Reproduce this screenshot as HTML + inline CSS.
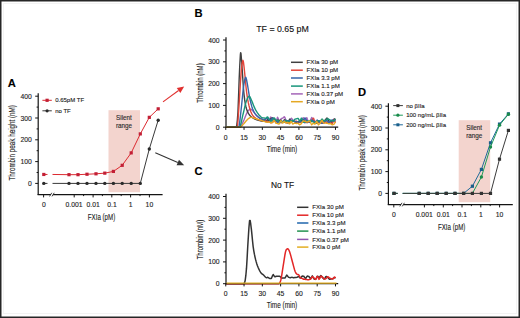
<!DOCTYPE html>
<html><head><meta charset="utf-8"><style>
html,body{margin:0;padding:0;background:#fff;width:520px;height:318px;overflow:hidden}
svg{display:block}
text{font-family:"Liberation Sans", sans-serif;stroke-width:0.12px}
</style></head><body>
<svg width="520" height="318" viewBox="0 0 520 318">
<rect width="520" height="318" fill="#fff"/>
<rect x="108.5" y="110.2" width="31.5" height="82" fill="#f3d4ce"/>
<line x1="38.2" y1="93.3" x2="38.2" y2="195.1" stroke="#141414" stroke-width="1.2"/>
<line x1="35.2" y1="183.4" x2="38.2" y2="183.4" stroke="#141414" stroke-width="1"/>
<text x="31.8" y="185.9" font-size="6.8" text-anchor="end" fill="#222" stroke="#222" stroke-width="0.05" font-weight="normal" >0</text>
<line x1="36.6" y1="172.5" x2="38.2" y2="172.5" stroke="#141414" stroke-width="1"/>
<line x1="35.2" y1="161.6" x2="38.2" y2="161.6" stroke="#141414" stroke-width="1"/>
<text x="31.8" y="164.1" font-size="6.8" text-anchor="end" fill="#222" stroke="#222" stroke-width="0.05" font-weight="normal" >100</text>
<line x1="36.6" y1="150.7" x2="38.2" y2="150.7" stroke="#141414" stroke-width="1"/>
<line x1="35.2" y1="139.8" x2="38.2" y2="139.8" stroke="#141414" stroke-width="1"/>
<text x="31.8" y="142.3" font-size="6.8" text-anchor="end" fill="#222" stroke="#222" stroke-width="0.05" font-weight="normal" >200</text>
<line x1="36.6" y1="128.9" x2="38.2" y2="128.9" stroke="#141414" stroke-width="1"/>
<line x1="35.2" y1="118" x2="38.2" y2="118" stroke="#141414" stroke-width="1"/>
<text x="31.8" y="120.5" font-size="6.8" text-anchor="end" fill="#222" stroke="#222" stroke-width="0.05" font-weight="normal" >300</text>
<line x1="36.6" y1="107.1" x2="38.2" y2="107.1" stroke="#141414" stroke-width="1"/>
<line x1="35.2" y1="96.2" x2="38.2" y2="96.2" stroke="#141414" stroke-width="1"/>
<text x="31.8" y="98.7" font-size="6.8" text-anchor="end" fill="#222" stroke="#222" stroke-width="0.05" font-weight="normal" >400</text>
<line x1="37.6" y1="194.6" x2="162.6" y2="194.6" stroke="#141414" stroke-width="1.2"/>
<polygon points="49.6,196.4 51.8,192.8 54.2,192.8 52,196.4" fill="#fff"/>
<line x1="49.6" y1="196.4" x2="51.8" y2="192.8" stroke="#141414" stroke-width="0.8"/>
<line x1="52" y1="196.4" x2="54.2" y2="192.8" stroke="#141414" stroke-width="0.8"/>
<line x1="43.6" y1="194.6" x2="43.6" y2="197.4" stroke="#141414" stroke-width="1"/>
<line x1="74.2" y1="194.6" x2="74.2" y2="197.4" stroke="#141414" stroke-width="1"/>
<line x1="83.6" y1="194.6" x2="83.6" y2="196.1" stroke="#141414" stroke-width="1"/>
<line x1="93.1" y1="194.6" x2="93.1" y2="197.4" stroke="#141414" stroke-width="1"/>
<line x1="102.4" y1="194.6" x2="102.4" y2="196.1" stroke="#141414" stroke-width="1"/>
<line x1="111.8" y1="194.6" x2="111.8" y2="197.4" stroke="#141414" stroke-width="1"/>
<line x1="121.2" y1="194.6" x2="121.2" y2="196.1" stroke="#141414" stroke-width="1"/>
<line x1="130.6" y1="194.6" x2="130.6" y2="197.4" stroke="#141414" stroke-width="1"/>
<line x1="140" y1="194.6" x2="140" y2="196.1" stroke="#141414" stroke-width="1"/>
<line x1="149.4" y1="194.6" x2="149.4" y2="197.4" stroke="#141414" stroke-width="1"/>
<text x="43.8" y="207.2" font-size="6.8" text-anchor="middle" fill="#222" stroke="#222" stroke-width="0.05" font-weight="normal" >0</text>
<text x="74" y="207.2" font-size="6.8" text-anchor="middle" fill="#222" stroke="#222" stroke-width="0.05" font-weight="normal" >0.001</text>
<text x="93.1" y="207.2" font-size="6.8" text-anchor="middle" fill="#222" stroke="#222" stroke-width="0.05" font-weight="normal" >0.01</text>
<text x="112" y="207.2" font-size="6.8" text-anchor="middle" fill="#222" stroke="#222" stroke-width="0.05" font-weight="normal" >0.1</text>
<text x="130.6" y="207.2" font-size="6.8" text-anchor="middle" fill="#222" stroke="#222" stroke-width="0.05" font-weight="normal" >1</text>
<text x="149.4" y="207.2" font-size="6.8" text-anchor="middle" fill="#222" stroke="#222" stroke-width="0.05" font-weight="normal" >10</text>
<text x="101.5" y="219.8" font-size="9" text-anchor="middle" fill="#222" stroke="#222" stroke-width="0.3" textLength="27.4" lengthAdjust="spacingAndGlyphs">FXIa (pM)</text>
<text transform="translate(14.8,142.8) rotate(-90)" font-size="8.8" text-anchor="middle" fill="#222" stroke="#222" stroke-width="0.3" textLength="75.5" lengthAdjust="spacingAndGlyphs">Thrombin peak height (nM)</text>
<text x="124" y="119.9" font-size="6.3" text-anchor="middle" fill="#2a2a2a" stroke="#2a2a2a" stroke-width="0.05" font-weight="normal" >Silent</text>
<text x="124" y="127.6" font-size="6.3" text-anchor="middle" fill="#2a2a2a" stroke="#2a2a2a" stroke-width="0.05" font-weight="normal" >range</text>
<line x1="43.8" y1="183.4" x2="47.5" y2="183.4" stroke="#3a3a3a" stroke-width="1"/>
<polyline points="52.5,183.4 69,183.4 78,183.4 87,183.4 96,183.4 104.8,183.4 113.4,183.4 122.2,183.4 131.2,183.4 140.3,183.4 149.3,148.96 158.2,120.18" fill="none" stroke="#3a3a3a" stroke-width="1" stroke-linejoin="round" />
<circle cx="43.8" cy="183.4" r="1.7" fill="#2a2a2a"/>
<circle cx="69" cy="183.4" r="1.7" fill="#2a2a2a"/>
<circle cx="78" cy="183.4" r="1.7" fill="#2a2a2a"/>
<circle cx="87" cy="183.4" r="1.7" fill="#2a2a2a"/>
<circle cx="96" cy="183.4" r="1.7" fill="#2a2a2a"/>
<circle cx="104.8" cy="183.4" r="1.7" fill="#2a2a2a"/>
<circle cx="113.4" cy="183.4" r="1.7" fill="#2a2a2a"/>
<circle cx="122.2" cy="183.4" r="1.7" fill="#2a2a2a"/>
<circle cx="131.2" cy="183.4" r="1.7" fill="#2a2a2a"/>
<circle cx="140.3" cy="183.4" r="1.7" fill="#2a2a2a"/>
<circle cx="149.3" cy="148.96" r="1.7" fill="#2a2a2a"/>
<circle cx="158.2" cy="120.18" r="1.7" fill="#2a2a2a"/>
<line x1="43.8" y1="174.46" x2="47.5" y2="174.46" stroke="#dc2a30" stroke-width="1"/>
<polyline points="52.5,174.46 69,174.68 78,174.68 87,174.24 96,173.81 104.8,173.15 113.4,171.41 122.2,165.31 131.2,152.88 140.3,133.91 149.3,117.35 158.2,108.84" fill="none" stroke="#dc2a30" stroke-width="1" stroke-linejoin="round" />
<rect x="42.2" y="172.86" width="3.2" height="3.2" fill="#c21f35"/>
<rect x="67.4" y="173.08" width="3.2" height="3.2" fill="#c21f35"/>
<rect x="76.4" y="173.08" width="3.2" height="3.2" fill="#c21f35"/>
<rect x="85.4" y="172.64" width="3.2" height="3.2" fill="#c21f35"/>
<rect x="94.4" y="172.21" width="3.2" height="3.2" fill="#c21f35"/>
<rect x="103.2" y="171.55" width="3.2" height="3.2" fill="#c21f35"/>
<rect x="111.8" y="169.81" width="3.2" height="3.2" fill="#c21f35"/>
<rect x="120.6" y="163.71" width="3.2" height="3.2" fill="#c21f35"/>
<rect x="129.6" y="151.28" width="3.2" height="3.2" fill="#c21f35"/>
<rect x="138.7" y="132.31" width="3.2" height="3.2" fill="#c21f35"/>
<rect x="147.7" y="115.75" width="3.2" height="3.2" fill="#c21f35"/>
<rect x="156.6" y="107.24" width="3.2" height="3.2" fill="#c21f35"/>
<line x1="42.4" y1="100.3" x2="51.8" y2="100.3" stroke="#dc2a30" stroke-width="1"/>
<rect x="45.5" y="98.7" width="3.2" height="3.2" fill="#c21f35"/>
<text x="55.2" y="102.4" font-size="6" text-anchor="start" fill="#222" stroke="#222" stroke-width="0.05" font-weight="normal" >0.65pM TF</text>
<line x1="42.4" y1="110.8" x2="51.8" y2="110.8" stroke="#3a3a3a" stroke-width="1"/>
<circle cx="47.1" cy="110.8" r="1.6" fill="#2a2a2a"/>
<text x="55.2" y="112.9" font-size="6" text-anchor="start" fill="#222" stroke="#222" stroke-width="0.05" font-weight="normal" >no TF</text>
<text x="7.8" y="87.1" font-size="11.2" text-anchor="start" fill="#000" stroke="#000" stroke-width="0.12" font-weight="bold" >A</text>
<rect x="458.7" y="120.2" width="31.5" height="82" fill="#f3d4ce"/>
<line x1="388.4" y1="103.3" x2="388.4" y2="205.1" stroke="#141414" stroke-width="1.2"/>
<line x1="385.4" y1="193.4" x2="388.4" y2="193.4" stroke="#141414" stroke-width="1"/>
<text x="382" y="195.9" font-size="6.8" text-anchor="end" fill="#222" stroke="#222" stroke-width="0.05" font-weight="normal" >0</text>
<line x1="386.8" y1="182.5" x2="388.4" y2="182.5" stroke="#141414" stroke-width="1"/>
<line x1="385.4" y1="171.6" x2="388.4" y2="171.6" stroke="#141414" stroke-width="1"/>
<text x="382" y="174.1" font-size="6.8" text-anchor="end" fill="#222" stroke="#222" stroke-width="0.05" font-weight="normal" >100</text>
<line x1="386.8" y1="160.7" x2="388.4" y2="160.7" stroke="#141414" stroke-width="1"/>
<line x1="385.4" y1="149.8" x2="388.4" y2="149.8" stroke="#141414" stroke-width="1"/>
<text x="382" y="152.3" font-size="6.8" text-anchor="end" fill="#222" stroke="#222" stroke-width="0.05" font-weight="normal" >200</text>
<line x1="386.8" y1="138.9" x2="388.4" y2="138.9" stroke="#141414" stroke-width="1"/>
<line x1="385.4" y1="128" x2="388.4" y2="128" stroke="#141414" stroke-width="1"/>
<text x="382" y="130.5" font-size="6.8" text-anchor="end" fill="#222" stroke="#222" stroke-width="0.05" font-weight="normal" >300</text>
<line x1="386.8" y1="117.1" x2="388.4" y2="117.1" stroke="#141414" stroke-width="1"/>
<line x1="385.4" y1="106.2" x2="388.4" y2="106.2" stroke="#141414" stroke-width="1"/>
<text x="382" y="108.7" font-size="6.8" text-anchor="end" fill="#222" stroke="#222" stroke-width="0.05" font-weight="normal" >400</text>
<line x1="387.8" y1="204.6" x2="512.8" y2="204.6" stroke="#141414" stroke-width="1.2"/>
<polygon points="399.8,206.4 402,202.8 404.4,202.8 402.2,206.4" fill="#fff"/>
<line x1="399.8" y1="206.4" x2="402" y2="202.8" stroke="#141414" stroke-width="0.8"/>
<line x1="402.2" y1="206.4" x2="404.4" y2="202.8" stroke="#141414" stroke-width="0.8"/>
<line x1="393.8" y1="204.6" x2="393.8" y2="207.4" stroke="#141414" stroke-width="1"/>
<line x1="424.4" y1="204.6" x2="424.4" y2="207.4" stroke="#141414" stroke-width="1"/>
<line x1="433.8" y1="204.6" x2="433.8" y2="206.1" stroke="#141414" stroke-width="1"/>
<line x1="443.3" y1="204.6" x2="443.3" y2="207.4" stroke="#141414" stroke-width="1"/>
<line x1="452.6" y1="204.6" x2="452.6" y2="206.1" stroke="#141414" stroke-width="1"/>
<line x1="462" y1="204.6" x2="462" y2="207.4" stroke="#141414" stroke-width="1"/>
<line x1="471.4" y1="204.6" x2="471.4" y2="206.1" stroke="#141414" stroke-width="1"/>
<line x1="480.8" y1="204.6" x2="480.8" y2="207.4" stroke="#141414" stroke-width="1"/>
<line x1="490.2" y1="204.6" x2="490.2" y2="206.1" stroke="#141414" stroke-width="1"/>
<line x1="499.6" y1="204.6" x2="499.6" y2="207.4" stroke="#141414" stroke-width="1"/>
<text x="394" y="217.2" font-size="6.8" text-anchor="middle" fill="#222" stroke="#222" stroke-width="0.05" font-weight="normal" >0</text>
<text x="424.2" y="217.2" font-size="6.8" text-anchor="middle" fill="#222" stroke="#222" stroke-width="0.05" font-weight="normal" >0.001</text>
<text x="443.3" y="217.2" font-size="6.8" text-anchor="middle" fill="#222" stroke="#222" stroke-width="0.05" font-weight="normal" >0.01</text>
<text x="462.2" y="217.2" font-size="6.8" text-anchor="middle" fill="#222" stroke="#222" stroke-width="0.05" font-weight="normal" >0.1</text>
<text x="480.8" y="217.2" font-size="6.8" text-anchor="middle" fill="#222" stroke="#222" stroke-width="0.05" font-weight="normal" >1</text>
<text x="499.6" y="217.2" font-size="6.8" text-anchor="middle" fill="#222" stroke="#222" stroke-width="0.05" font-weight="normal" >10</text>
<text x="451.7" y="229.8" font-size="9" text-anchor="middle" fill="#222" stroke="#222" stroke-width="0.3" textLength="27.4" lengthAdjust="spacingAndGlyphs">FXIa (pM)</text>
<text transform="translate(365,152.8) rotate(-90)" font-size="8.8" text-anchor="middle" fill="#222" stroke="#222" stroke-width="0.3" textLength="75.5" lengthAdjust="spacingAndGlyphs">Thrombin peak height (nM)</text>
<text x="474.2" y="129.9" font-size="6.3" text-anchor="middle" fill="#2a2a2a" stroke="#2a2a2a" stroke-width="0.05" font-weight="normal" >Silent</text>
<text x="474.2" y="137.6" font-size="6.3" text-anchor="middle" fill="#2a2a2a" stroke="#2a2a2a" stroke-width="0.05" font-weight="normal" >range</text>
<line x1="394" y1="193.4" x2="397.7" y2="193.4" stroke="#1f6a9a" stroke-width="1"/>
<polyline points="402.7,193.4 419.2,193.4 428.2,193.4 437.2,193.4 446.2,193.4 455,193.4 463.6,193.4 472.4,186.21 481.4,169.42 490.5,142.82 499.5,124.08 508.4,113.83" fill="none" stroke="#1f6a9a" stroke-width="1" stroke-linejoin="round" />
<rect x="392.4" y="191.8" width="3.2" height="3.2" fill="#1a5f8a"/>
<rect x="417.6" y="191.8" width="3.2" height="3.2" fill="#1a5f8a"/>
<rect x="426.6" y="191.8" width="3.2" height="3.2" fill="#1a5f8a"/>
<rect x="435.6" y="191.8" width="3.2" height="3.2" fill="#1a5f8a"/>
<rect x="444.6" y="191.8" width="3.2" height="3.2" fill="#1a5f8a"/>
<rect x="453.4" y="191.8" width="3.2" height="3.2" fill="#1a5f8a"/>
<rect x="462" y="191.8" width="3.2" height="3.2" fill="#1a5f8a"/>
<rect x="470.8" y="184.61" width="3.2" height="3.2" fill="#1a5f8a"/>
<rect x="479.8" y="167.82" width="3.2" height="3.2" fill="#1a5f8a"/>
<rect x="488.9" y="141.22" width="3.2" height="3.2" fill="#1a5f8a"/>
<rect x="497.9" y="122.48" width="3.2" height="3.2" fill="#1a5f8a"/>
<rect x="506.8" y="112.23" width="3.2" height="3.2" fill="#1a5f8a"/>
<line x1="394" y1="193.4" x2="397.7" y2="193.4" stroke="#1f9a5a" stroke-width="1"/>
<polyline points="402.7,193.4 419.2,193.4 428.2,193.4 437.2,193.4 446.2,193.4 455,193.4 463.6,193.4 472.4,193.4 481.4,177.05 490.5,146.97 499.5,125.17 508.4,114.27" fill="none" stroke="#1f9a5a" stroke-width="1" stroke-linejoin="round" />
<circle cx="394" cy="193.4" r="1.7" fill="#1a8a4a"/>
<circle cx="419.2" cy="193.4" r="1.7" fill="#1a8a4a"/>
<circle cx="428.2" cy="193.4" r="1.7" fill="#1a8a4a"/>
<circle cx="437.2" cy="193.4" r="1.7" fill="#1a8a4a"/>
<circle cx="446.2" cy="193.4" r="1.7" fill="#1a8a4a"/>
<circle cx="455" cy="193.4" r="1.7" fill="#1a8a4a"/>
<circle cx="463.6" cy="193.4" r="1.7" fill="#1a8a4a"/>
<circle cx="472.4" cy="193.4" r="1.7" fill="#1a8a4a"/>
<circle cx="481.4" cy="177.05" r="1.7" fill="#1a8a4a"/>
<circle cx="490.5" cy="146.97" r="1.7" fill="#1a8a4a"/>
<circle cx="499.5" cy="125.17" r="1.7" fill="#1a8a4a"/>
<circle cx="508.4" cy="114.27" r="1.7" fill="#1a8a4a"/>
<line x1="394" y1="193.4" x2="397.7" y2="193.4" stroke="#3c3c3c" stroke-width="1"/>
<polyline points="402.7,193.4 419.2,193.4 428.2,193.4 437.2,193.4 446.2,193.4 455,193.4 463.6,193.4 472.4,193.4 481.4,193.4 490.5,193.4 499.5,159.17 508.4,130.4" fill="none" stroke="#3c3c3c" stroke-width="1" stroke-linejoin="round" />
<rect x="392.4" y="191.8" width="3.2" height="3.2" fill="#333"/>
<rect x="417.6" y="191.8" width="3.2" height="3.2" fill="#333"/>
<rect x="426.6" y="191.8" width="3.2" height="3.2" fill="#333"/>
<rect x="435.6" y="191.8" width="3.2" height="3.2" fill="#333"/>
<rect x="444.6" y="191.8" width="3.2" height="3.2" fill="#333"/>
<rect x="453.4" y="191.8" width="3.2" height="3.2" fill="#333"/>
<rect x="462" y="191.8" width="3.2" height="3.2" fill="#333"/>
<rect x="470.8" y="191.8" width="3.2" height="3.2" fill="#333"/>
<rect x="479.8" y="191.8" width="3.2" height="3.2" fill="#333"/>
<rect x="488.9" y="191.8" width="3.2" height="3.2" fill="#333"/>
<rect x="497.9" y="157.57" width="3.2" height="3.2" fill="#333"/>
<rect x="506.8" y="128.8" width="3.2" height="3.2" fill="#333"/>
<text x="358" y="96.2" font-size="11.2" text-anchor="start" fill="#000" stroke="#000" stroke-width="0.12" font-weight="bold" >D</text>
<line x1="393.2" y1="105.6" x2="402.9" y2="105.6" stroke="#3c3c3c" stroke-width="1"/>
<rect x="396.4" y="104.1" width="3" height="3" fill="#333"/>
<text x="406.2" y="107.7" font-size="6" text-anchor="start" fill="#222" stroke="#222" stroke-width="0.05" font-weight="normal" >no βIIa</text>
<line x1="393.2" y1="115.2" x2="402.9" y2="115.2" stroke="#1f9a5a" stroke-width="1"/>
<circle cx="397.9" cy="115.2" r="1.6" fill="#1a8a4a"/>
<text x="406.2" y="117.3" font-size="6" text-anchor="start" fill="#222" stroke="#222" stroke-width="0.05" font-weight="normal" >100 ng/mL βIIa</text>
<line x1="393.2" y1="124.8" x2="402.9" y2="124.8" stroke="#1f6a9a" stroke-width="1"/>
<rect x="396.4" y="123.3" width="3" height="3" fill="#1a5f8a"/>
<text x="406.2" y="126.9" font-size="6" text-anchor="start" fill="#222" stroke="#222" stroke-width="0.05" font-weight="normal" >200 ng/mL βIIa</text>
<line x1="226" y1="37.3" x2="226" y2="127.6" stroke="#141414" stroke-width="1.2"/>
<line x1="223" y1="127.2" x2="226" y2="127.2" stroke="#141414" stroke-width="1"/>
<text x="219.6" y="129.7" font-size="6.8" text-anchor="end" fill="#222" stroke="#222" stroke-width="0.05" font-weight="normal" >0</text>
<line x1="224.4" y1="116.3" x2="226" y2="116.3" stroke="#141414" stroke-width="1"/>
<line x1="223" y1="105.4" x2="226" y2="105.4" stroke="#141414" stroke-width="1"/>
<text x="219.6" y="107.9" font-size="6.8" text-anchor="end" fill="#222" stroke="#222" stroke-width="0.05" font-weight="normal" >100</text>
<line x1="224.4" y1="94.5" x2="226" y2="94.5" stroke="#141414" stroke-width="1"/>
<line x1="223" y1="83.6" x2="226" y2="83.6" stroke="#141414" stroke-width="1"/>
<text x="219.6" y="86.1" font-size="6.8" text-anchor="end" fill="#222" stroke="#222" stroke-width="0.05" font-weight="normal" >200</text>
<line x1="224.4" y1="72.7" x2="226" y2="72.7" stroke="#141414" stroke-width="1"/>
<line x1="223" y1="61.8" x2="226" y2="61.8" stroke="#141414" stroke-width="1"/>
<text x="219.6" y="64.3" font-size="6.8" text-anchor="end" fill="#222" stroke="#222" stroke-width="0.05" font-weight="normal" >300</text>
<line x1="224.4" y1="50.9" x2="226" y2="50.9" stroke="#141414" stroke-width="1"/>
<line x1="223" y1="40" x2="226" y2="40" stroke="#141414" stroke-width="1"/>
<text x="219.6" y="42.5" font-size="6.8" text-anchor="end" fill="#222" stroke="#222" stroke-width="0.05" font-weight="normal" >400</text>
<polyline points="225.75,127.2 226.36,127.2 226.97,127.2 227.58,127.2 228.19,127.2 228.8,127.2 229.41,127.2 230.02,127.2 230.63,127.2 231.24,127.2 231.85,127.2 232.46,127.2 233.07,127.2 233.68,127.2 234.29,127.2 234.89,127.2 235.5,127.2 236.11,127.2 236.72,127.2 237.33,127.2 237.94,127.2 238.55,127.2 239.16,127.2 239.77,127.2 240.14,127.2 240.38,127.07 240.99,126.36 241.6,125.26 242.21,123.9 242.82,122.46 243.43,121.1 244.04,119.74 244.65,118.26 245.26,116.74 245.87,115.25 246.48,113.84 247.09,112.6 247.21,112.38 247.7,111.55 248.31,110.66 248.92,109.94 249.53,109.42 250.14,109.11 250.75,109.12 251.36,109.48 251.96,110.03 252.57,110.63 253.18,111.29 253.79,112.04 254.4,112.83 255.01,113.62 255.62,114.36 256.23,114.99 256.84,115.54 257.45,116.05 258.06,116.53 258.67,116.98 259.28,117.4 259.89,117.79 260.5,118.15 261.11,118.48 261.72,118.79 262.33,119.1 262.94,119.32 263.55,119.46 264.16,119.55 264.77,119.68 265.38,119.8 265.99,120.14 266.6,120.91 267.21,121.63 267.82,121.41 268.43,120.58 269.04,119.75 269.64,118.85 270.25,117.93 270.86,117.01 271.47,118.63 272.08,120.26 272.69,121.34 273.3,120.27 273.91,119.19 274.52,118.99 275.13,120.07 275.74,121.16 276.35,120.59 276.96,118.92 277.57,117.24 278.18,118.39 278.79,120.23 279.4,122.08 280.01,120.81 280.62,119.54 281.23,118.5 281.84,118.35 282.45,118.21 283.06,117.88 283.67,117.3 284.28,116.71 284.89,117.5 285.5,119.19 286.11,120.89 286.72,121.5 287.32,121.82 287.93,122.15 288.54,121.71 289.15,121.27 289.76,120.7 290.37,119.62 290.98,118.54 291.59,118.26 292.2,119.19 292.81,120.11 293.42,120.81 294.03,121.37 294.64,121.93 295.25,122.27 295.86,122.56 296.47,122.85 297.08,122.55 297.69,122.25 298.3,121.92 298.91,121.48 299.52,121.04 300.13,120.97 300.74,121.45 301.35,121.93 301.96,121.08 302.57,119.34 303.18,117.6 303.79,118.88 304.39,120.9 305,122.93 305.61,120.93 306.22,118.94 306.83,117.68 307.44,119.37 308.05,121.06 308.66,121.9 309.27,121.48 309.88,121.06 310.49,120.09 311.1,118.77 311.71,117.44 312.32,118.17 312.93,119.41 313.54,120.65 314.15,121.21 314.76,121.76 315.37,122.17 315.98,122 316.59,121.84 317.2,121.9 317.81,122.3 318.42,122.69 319.03,122.47 319.64,121.83 320.25,121.19 320.86,121.63 321.47,122.35 322.07,123.06 322.68,123.02 323.29,122.97 323.9,122.84 324.51,122.36 325.12,121.88 325.73,121.69 326.34,121.95 326.95,122.21 327.56,122.2 328.17,122.02 328.78,121.83 329.39,121.42 330,120.95 330.61,120.49 331.22,121.33 331.83,122.18 332.44,122.57 333.05,121.12 333.66,119.67 334.27,119.08 334.88,119.75 335.49,120.43" fill="none" stroke="#a465b8" stroke-width="1.4" stroke-linejoin="round" />
<polyline points="225.75,127.2 226.36,127.2 226.97,127.2 227.58,127.2 228.19,127.2 228.8,127.2 229.41,127.2 230.02,127.2 230.63,127.2 231.24,127.2 231.85,127.2 232.46,127.2 233.07,127.2 233.68,127.2 234.29,127.2 234.89,127.2 235.5,127.2 236.11,127.2 236.24,127.2 236.72,125.49 237.33,120.34 237.94,111.94 238.55,96.46 239.16,79.24 239.77,65.2 240.38,54.5 240.63,52.64 240.99,53.47 241.6,61.15 242.09,68.34 242.21,69.92 242.82,78.96 243.43,87.98 243.8,92.32 244.04,94.67 244.65,99.65 245.26,103.52 245.87,106.49 246.48,108.8 247.09,110.6 247.7,112.02 248.31,113.15 248.92,114.12 249.53,114.97 250.14,115.7 250.75,116.32 251.36,116.86 251.96,117.32 252.57,117.74 253.18,118.12 253.79,118.48 254.4,118.82 255.01,119.12 255.62,119.39 256.23,119.62 256.84,119.83 257.45,120.01 258.06,120.18 258.67,120.35 259.28,120.5 259.89,120.66 260.5,120.82 261.11,120.97 261.72,121.12 262.33,121.27 262.94,121.3 263.55,120.79 264.16,120.02 264.77,120.44 265.38,121.29 265.99,121.64 266.6,120.73 267.21,119.79 267.82,119.78 268.43,120.4 269.04,121.01 269.64,120.42 270.25,119.53 270.86,118.65 271.47,118.31 272.08,117.97 272.69,117.81 273.3,118.37 273.91,118.93 274.52,119.66 275.13,120.65 275.74,121.63 276.35,121.55 276.96,120.76 277.57,119.97 278.18,120.07 278.79,120.4 279.4,120.72 280.01,120.46 280.62,120.19 281.23,120.19 281.84,121.26 282.45,122.33 283.06,122.43 283.67,121.1 284.28,119.76 284.89,119.85 285.5,120.88 286.11,121.91 286.72,122.4 287.32,122.75 287.93,123.1 288.54,121.6 289.15,120.09 289.76,119.09 290.37,120.1 290.98,121.12 291.59,121.65 292.2,121.45 292.81,121.26 293.42,121.24 294.03,121.34 294.64,121.44 295.25,121.86 295.86,122.36 296.47,122.85 297.08,122.31 297.69,121.77 298.3,121.41 298.91,121.77 299.52,122.12 300.13,122.02 300.74,121.21 301.35,120.41 301.96,120 302.57,119.84 303.18,119.68 303.79,120.27 304.39,121.05 305,121.83 305.61,122.14 306.22,122.45 306.83,122.67 307.44,122.55 308.05,122.42 308.66,122.34 309.27,122.33 309.88,122.32 310.49,121.94 311.1,121.32 311.71,120.69 312.32,120.93 312.93,121.39 313.54,121.84 314.15,121.95 314.76,122.05 315.37,122.21 315.98,122.61 316.59,123 317.2,122.94 317.81,122.18 318.42,121.42 319.03,121.37 319.64,121.78 320.25,122.19 320.86,122.51 321.47,122.79 322.07,123.08 322.68,122.41 323.29,121.74 323.9,121.08 324.51,120.49 325.12,119.91 325.73,119.29 326.34,118.65 326.95,118 327.56,118.55 328.17,119.92 328.78,121.28 329.39,121.61 330,121.69 330.61,121.76 331.22,121.97 331.83,122.18 332.44,122.1 333.05,120.89 333.66,119.68 334.27,119.01 334.88,119.16 335.49,119.32" fill="none" stroke="#404040" stroke-width="1.4" stroke-linejoin="round" />
<polyline points="225.75,127.2 226.36,127.2 226.97,127.2 227.58,127.2 228.19,127.2 228.8,127.2 229.41,127.2 230.02,127.2 230.63,127.2 231.24,127.2 231.85,127.2 232.46,127.2 233.07,127.2 233.68,127.2 234.29,127.2 234.89,127.2 235.5,127.2 236.11,127.2 236.72,127.2 237.21,127.2 237.33,126.84 237.94,121.5 238.55,112.57 239.16,103.22 239.77,93.6 240.38,83.21 240.99,74.16 241.11,72.7 241.6,67.54 242.21,62.65 242.82,60.35 242.94,60.27 243.43,61.87 244.04,66.87 244.65,72.7 245.26,78.84 245.87,85.54 246.48,91.23 247.09,95.59 247.7,99.38 248.31,102.63 248.92,105.4 249.53,107.76 250.14,109.78 250.75,111.49 251.36,112.92 251.96,114.12 252.57,115.12 253.18,115.94 253.79,116.62 254.4,117.19 255.01,117.67 255.62,118.09 256.23,118.48 256.84,118.84 257.45,119.15 258.06,119.42 258.67,119.65 259.28,119.85 259.89,120.03 260.5,120.2 261.11,120.35 261.72,120.51 262.33,120.66 262.94,120.55 263.55,120.29 264.16,119.98 264.77,120.18 265.38,120.57 265.99,121.07 266.6,121.59 267.21,122.09 267.82,122.16 268.43,121.95 269.04,121.72 269.64,122.02 270.25,122.46 270.86,122.89 271.47,122.68 272.08,122.48 272.69,122.2 273.3,121.65 273.91,121.1 274.52,120.95 275.13,121.38 275.74,121.81 276.35,121.76 276.96,121.38 277.57,121.01 278.18,121.31 278.79,121.78 279.4,122.25 280.01,122.34 280.62,122.43 281.23,122.47 281.84,122.34 282.45,122.22 283.06,121.9 283.67,121.3 284.28,120.71 284.89,121.05 285.5,122.03 286.11,123 286.72,122.56 287.32,121.76 287.93,120.96 288.54,121.73 289.15,122.5 289.76,123 290.37,122.43 290.98,121.86 291.59,121.48 292.2,121.38 292.81,121.28 293.42,121.31 294.03,121.43 294.64,121.54 295.25,121.42 295.86,121.25 296.47,121.07 297.08,121.84 297.69,122.61 298.3,123.12 298.91,122.61 299.52,122.09 300.13,121.85 300.74,122.03 301.35,122.2 301.96,122.05 302.57,121.69 303.18,121.32 303.79,121.32 304.39,121.41 305,121.49 305.61,121.45 306.22,121.4 306.83,121.44 307.44,121.84 308.05,122.23 308.66,122.3 309.27,121.87 309.88,121.44 310.49,120.99 311.1,120.52 311.71,120.05 312.32,119.43 312.93,118.78 313.54,118.13 314.15,119.86 314.76,121.6 315.37,122.98 315.98,122.94 316.59,122.9 317.2,122.73 317.81,122.36 318.42,121.99 319.03,121.95 319.64,122.12 320.25,122.3 320.86,122.28 321.47,122.22 322.07,122.15 322.68,122.51 323.29,122.86 323.9,123.01 324.51,122.33 325.12,121.65 325.73,121.57 326.34,122.37 326.95,123.18 327.56,123.13 328.17,122.53 328.78,121.92 329.39,122.2 330,122.7 330.61,123.2 331.22,123.32 331.83,123.45 332.44,123.25 333.05,121.75 333.66,120.24 334.27,119.93 334.88,121.39 335.49,122.85" fill="none" stroke="#e2453a" stroke-width="1.4" stroke-linejoin="round" />
<polyline points="225.75,127.2 226.36,127.2 226.97,127.2 227.58,127.2 228.19,127.2 228.8,127.2 229.41,127.2 230.02,127.2 230.63,127.2 231.24,127.2 231.85,127.2 232.46,127.2 233.07,127.2 233.68,127.2 234.29,127.2 234.89,127.2 235.5,127.2 236.11,127.2 236.72,127.2 237.33,127.2 237.94,127.2 238.55,127.2 238.67,127.2 239.16,125.68 239.77,121.65 240.38,116.32 240.99,110.79 241.11,109.76 241.6,105.36 242.21,99.24 242.82,93.12 243.43,87.78 243.55,86.87 244.04,83.52 244.65,80.05 245.26,77.82 245.62,77.28 245.87,77.39 246.48,79.4 247.09,82.69 247.45,84.69 247.7,86.01 248.31,89.76 248.92,93.68 249.53,97.18 249.65,97.77 250.14,99.98 250.75,102.54 251.36,104.86 251.96,106.91 252.57,108.67 253.18,110.17 253.79,111.48 254.4,112.6 255.01,113.58 255.62,114.44 256.23,115.21 256.84,115.9 257.45,116.5 258.06,117.03 258.67,117.5 259.28,117.91 259.89,118.28 260.5,118.61 261.11,118.92 261.72,119.2 262.33,119.48 262.94,119.83 263.55,120.13 264.16,120.29 264.77,119.94 265.38,119.28 265.99,118.5 266.6,118.26 267.21,117.99 267.82,118.31 268.43,119.01 269.04,119.69 269.64,119.97 270.25,120.14 270.86,120.31 271.47,119.4 272.08,118.49 272.69,117.95 273.3,118.87 273.91,119.79 274.52,120.4 275.13,120.54 275.74,120.68 276.35,121.13 276.96,121.78 277.57,122.43 278.18,122.18 278.79,121.7 279.4,121.23 280.01,121.76 280.62,122.3 281.23,122.65 281.84,122.26 282.45,121.86 283.06,121.47 283.67,121.11 284.28,120.74 284.89,120.58 285.5,120.55 286.11,120.52 286.72,120.62 287.32,120.74 287.93,120.86 288.54,120.75 289.15,120.63 289.76,120.54 290.37,120.54 290.98,120.54 291.59,120.54 292.2,120.53 292.81,120.52 293.42,120.71 294.03,121.03 294.64,121.36 295.25,121.52 295.86,121.63 296.47,121.75 297.08,121.9 297.69,122.06 298.3,122.14 298.91,121.92 299.52,121.71 300.13,121.55 300.74,121.46 301.35,121.38 301.96,121.25 302.57,121.09 303.18,120.93 303.79,120.01 304.39,118.89 305,117.77 305.61,118.8 306.22,119.82 306.83,120.71 307.44,121.08 308.05,121.46 308.66,121.82 309.27,122.15 309.88,122.49 310.49,122.02 311.1,121.01 311.71,120 312.32,120.13 312.93,120.54 313.54,120.96 314.15,121.67 314.76,122.39 315.37,122.73 315.98,121.58 316.59,120.43 317.2,119.95 317.81,120.47 318.42,120.99 319.03,121.6 319.64,122.28 320.25,122.96 320.86,123.1 321.47,123.1 322.07,123.1 322.68,122.83 323.29,122.57 323.9,122.24 324.51,121.63 325.12,121.03 325.73,120.66 326.34,120.64 326.95,120.63 327.56,121.14 328.17,122 328.78,122.87 329.39,122.32 330,121.43 330.61,120.53 331.22,120.28 331.83,120.03 332.44,119.91 333.05,120.33 333.66,120.75 334.27,120.96 334.88,120.88 335.49,120.8" fill="none" stroke="#3564a8" stroke-width="1.4" stroke-linejoin="round" />
<polyline points="225.75,127.2 226.36,127.2 226.97,127.2 227.58,127.2 228.19,127.2 228.8,127.2 229.41,127.2 230.02,127.2 230.63,127.2 231.24,127.2 231.85,127.2 232.46,127.2 233.07,127.2 233.68,127.2 234.29,127.2 234.89,127.2 235.5,127.2 236.11,127.2 236.72,127.2 237.33,127.2 237.94,127.2 238.55,127.2 239.16,127.2 239.65,127.2 239.77,127.09 240.38,125.78 240.99,123.54 241.6,120.77 242.21,117.86 242.82,115.21 243.43,112.71 244.04,110.07 244.65,107.43 245.26,104.91 245.87,102.65 246.23,101.48 246.48,100.77 247.09,99.17 247.7,97.87 248.31,96.92 248.92,96.35 249.16,96.24 249.53,96.33 250.14,97.19 250.75,98.54 251.36,99.95 251.96,101.33 252.57,102.84 253.18,104.4 253.79,105.94 254.4,107.39 255.01,108.67 255.62,109.81 256.23,110.88 256.84,111.88 257.45,112.81 258.06,113.68 258.67,114.48 259.28,115.21 259.89,115.87 260.5,116.44 261.11,116.95 261.72,117.39 262.33,117.79 262.94,117.84 263.55,117.89 264.16,117.96 264.77,118.14 265.38,118.38 265.99,118.23 266.6,117.59 267.21,116.91 267.82,117.22 268.43,118.16 269.04,119.06 269.64,119.88 270.25,120.67 270.86,121.46 271.47,120.91 272.08,120.37 272.69,119.76 273.3,118.95 273.91,118.14 274.52,118.07 275.13,119.12 275.74,120.17 276.35,120.47 276.96,120.28 277.57,120.09 278.18,120.64 278.79,121.38 279.4,122.12 280.01,121.59 280.62,121.06 281.23,120.74 281.84,121.22 282.45,121.69 283.06,122.02 283.67,122.12 284.28,122.22 284.89,121.83 285.5,121.12 286.11,120.41 286.72,120.71 287.32,121.25 287.93,121.79 288.54,121.55 289.15,121.31 289.76,121.07 290.37,120.82 290.98,120.58 291.59,120.6 292.2,121.01 292.81,121.43 293.42,121.08 294.03,120.21 294.64,119.35 295.25,119.06 295.86,118.91 296.47,118.77 297.08,118.57 297.69,118.37 298.3,118.45 298.91,119.65 299.52,120.84 300.13,120.98 300.74,119.55 301.35,118.13 301.96,118.57 302.57,120.26 303.18,121.96 303.79,122.25 304.39,122.18 305,122.12 305.61,121.69 306.22,121.25 306.83,120.94 307.44,121.13 308.05,121.31 308.66,121.27 309.27,120.9 309.88,120.53 310.49,120.5 311.1,120.68 311.71,120.87 312.32,121.3 312.93,121.8 313.54,122.3 314.15,122.36 314.76,122.42 315.37,122.49 315.98,122.62 316.59,122.75 317.2,122.51 317.81,121.72 318.42,120.92 319.03,120.7 319.64,120.85 320.25,121.01 320.86,120.48 321.47,119.77 322.07,119.07 322.68,119.74 323.29,120.41 323.9,120.92 324.51,120.77 325.12,120.61 325.73,120.26 326.34,119.61 326.95,118.96 327.56,118.82 328.17,119.03 328.78,119.23 329.39,119.62 330,120.07 330.61,120.51 331.22,120.64 331.83,120.78 332.44,120.9 333.05,120.94 333.66,120.97 334.27,120.63 334.88,119.71 335.49,118.78" fill="none" stroke="#17957a" stroke-width="1.4" stroke-linejoin="round" />
<polyline points="225.75,127.2 226.36,127.2 226.97,127.2 227.58,127.2 228.19,127.2 228.8,127.2 229.41,127.2 230.02,127.2 230.63,127.2 231.24,127.2 231.85,127.2 232.46,127.2 233.07,127.2 233.68,127.2 234.29,127.2 234.89,127.2 235.5,127.2 236.11,127.2 236.72,127.2 237.33,127.2 237.94,127.2 238.55,127.2 239.16,127.2 239.77,127.2 240.14,127.2 240.38,127.13 240.99,126.78 241.6,126.23 242.21,125.55 242.82,124.83 243.43,124.15 244.04,123.47 244.65,122.74 245.26,121.98 245.87,121.23 246.48,120.53 247.09,119.9 247.21,119.79 247.7,119.35 248.31,118.82 248.92,118.34 249.53,117.93 250.14,117.61 250.75,117.41 250.87,117.39 251.36,117.35 251.96,117.42 252.57,117.57 253.18,117.79 253.79,118.03 254.4,118.27 255.01,118.48 255.62,118.66 256.23,118.84 256.84,119.03 257.45,119.23 258.06,119.42 258.67,119.62 259.28,119.81 259.89,120.01 260.5,120.2 261.11,120.41 261.72,120.62 262.33,120.84 262.94,121.05 263.55,121.25 264.16,121.45 264.77,121.64 265.38,121.81 265.99,121.97 266.6,122.11 267.21,122.26 267.82,122.26 268.43,122.17 269.04,122.05 269.64,122.21 270.25,122.49 270.86,122.7 271.47,122.74 272.08,122.76 272.69,122.21 273.3,121.27 273.91,120.31 274.52,120.96 275.13,122 275.74,123.05 276.35,123.21 276.96,123.36 277.57,123.55 278.18,123.82 278.79,124.09 279.4,123.68 280.01,122.23 280.62,120.79 281.23,120.87 281.84,121.97 282.45,123.07 283.06,122.72 283.67,121.99 284.28,121.27 284.89,121.92 285.5,122.58 286.11,123.03 286.72,122.68 287.32,122.33 287.93,122.42 288.54,123.17 289.15,123.92 289.76,123.55 290.37,122.43 290.98,121.31 291.59,121.95 292.2,123.04 292.81,124.12 293.42,123.72 294.03,123.31 294.64,123.03 295.25,123.23 295.86,123.43 296.47,123.51 297.08,123.39 297.69,123.28 298.3,123.58 298.91,124.16 299.52,124.75 300.13,124.53 300.74,124.1 301.35,123.67 301.96,122.64 302.57,121.6 303.18,120.81 303.79,121 304.39,121.18 305,121.4 305.61,121.68 306.22,121.95 306.83,121.99 307.44,121.89 308.05,121.78 308.66,121.47 309.27,121.11 309.88,120.74 310.49,122.23 311.1,123.73 311.71,124.79 312.32,124.13 312.93,123.46 313.54,123.24 314.15,123.69 314.76,124.14 315.37,123.61 315.98,122.42 316.59,121.24 317.2,122.1 317.81,123.47 318.42,124.85 319.03,124.33 319.64,123.81 320.25,123.14 320.86,121.86 321.47,120.57 322.07,120.27 322.68,121.45 323.29,122.62 323.9,123.09 324.51,123.09 325.12,123.1 325.73,123.13 326.34,123.18 326.95,123.22 327.56,123.46 328.17,123.69 328.78,123.85 329.39,123.71 330,123.57 330.61,123.67 331.22,124.14 331.83,124.6 332.44,124.71 333.05,124.57 333.66,124.44 334.27,123.7 334.88,122.8 335.49,121.9" fill="none" stroke="#e5a823" stroke-width="1.4" stroke-linejoin="round" />
<line x1="225.4" y1="127.1" x2="338.2" y2="127.1" stroke="#141414" stroke-width="1.2"/>
<line x1="225.75" y1="127.1" x2="225.75" y2="129.9" stroke="#141414" stroke-width="1"/>
<text x="225.75" y="139.6" font-size="6.8" text-anchor="middle" fill="#222" stroke="#222" stroke-width="0.05" font-weight="normal" >0</text>
<line x1="244.04" y1="127.1" x2="244.04" y2="129.9" stroke="#141414" stroke-width="1"/>
<text x="244.04" y="139.6" font-size="6.8" text-anchor="middle" fill="#222" stroke="#222" stroke-width="0.05" font-weight="normal" >15</text>
<line x1="262.33" y1="127.1" x2="262.33" y2="129.9" stroke="#141414" stroke-width="1"/>
<text x="262.33" y="139.6" font-size="6.8" text-anchor="middle" fill="#222" stroke="#222" stroke-width="0.05" font-weight="normal" >30</text>
<line x1="280.62" y1="127.1" x2="280.62" y2="129.9" stroke="#141414" stroke-width="1"/>
<text x="280.62" y="139.6" font-size="6.8" text-anchor="middle" fill="#222" stroke="#222" stroke-width="0.05" font-weight="normal" >45</text>
<line x1="298.91" y1="127.1" x2="298.91" y2="129.9" stroke="#141414" stroke-width="1"/>
<text x="298.91" y="139.6" font-size="6.8" text-anchor="middle" fill="#222" stroke="#222" stroke-width="0.05" font-weight="normal" >60</text>
<line x1="317.2" y1="127.1" x2="317.2" y2="129.9" stroke="#141414" stroke-width="1"/>
<text x="317.2" y="139.6" font-size="6.8" text-anchor="middle" fill="#222" stroke="#222" stroke-width="0.05" font-weight="normal" >75</text>
<line x1="335.49" y1="127.1" x2="335.49" y2="129.9" stroke="#141414" stroke-width="1"/>
<text x="335.49" y="139.6" font-size="6.8" text-anchor="middle" fill="#222" stroke="#222" stroke-width="0.05" font-weight="normal" >90</text>
<text x="282" y="151.7" font-size="9" text-anchor="middle" fill="#222" stroke="#222" stroke-width="0.3" textLength="30.5" lengthAdjust="spacingAndGlyphs">Time (min)</text>
<text transform="translate(202.6,83.1) rotate(-90)" font-size="8.8" text-anchor="middle" fill="#222" stroke="#222" stroke-width="0.3" textLength="39.5" lengthAdjust="spacingAndGlyphs">Thrombin (nM)</text>
<text x="256.2" y="31.9" font-size="8.8" text-anchor="start" fill="#111" stroke="#111" stroke-width="0.12" font-weight="normal" >TF = 0.65 pM</text>
<text x="194.5" y="17.4" font-size="11.2" text-anchor="start" fill="#000" stroke="#000" stroke-width="0.12" font-weight="bold" >B</text>
<line x1="226" y1="193.8" x2="226" y2="284.1" stroke="#141414" stroke-width="1.2"/>
<line x1="223" y1="283.7" x2="226" y2="283.7" stroke="#141414" stroke-width="1"/>
<text x="219.6" y="286.2" font-size="6.8" text-anchor="end" fill="#222" stroke="#222" stroke-width="0.05" font-weight="normal" >0</text>
<line x1="224.4" y1="272.8" x2="226" y2="272.8" stroke="#141414" stroke-width="1"/>
<line x1="223" y1="261.9" x2="226" y2="261.9" stroke="#141414" stroke-width="1"/>
<text x="219.6" y="264.4" font-size="6.8" text-anchor="end" fill="#222" stroke="#222" stroke-width="0.05" font-weight="normal" >100</text>
<line x1="224.4" y1="251" x2="226" y2="251" stroke="#141414" stroke-width="1"/>
<line x1="223" y1="240.1" x2="226" y2="240.1" stroke="#141414" stroke-width="1"/>
<text x="219.6" y="242.6" font-size="6.8" text-anchor="end" fill="#222" stroke="#222" stroke-width="0.05" font-weight="normal" >200</text>
<line x1="224.4" y1="229.2" x2="226" y2="229.2" stroke="#141414" stroke-width="1"/>
<line x1="223" y1="218.3" x2="226" y2="218.3" stroke="#141414" stroke-width="1"/>
<text x="219.6" y="220.8" font-size="6.8" text-anchor="end" fill="#222" stroke="#222" stroke-width="0.05" font-weight="normal" >300</text>
<line x1="224.4" y1="207.4" x2="226" y2="207.4" stroke="#141414" stroke-width="1"/>
<line x1="223" y1="196.5" x2="226" y2="196.5" stroke="#141414" stroke-width="1"/>
<text x="219.6" y="199" font-size="6.8" text-anchor="end" fill="#222" stroke="#222" stroke-width="0.05" font-weight="normal" >400</text>
<polyline points="225.75,283.7 226.36,283.7 226.97,283.7 227.58,283.7 228.19,283.7 228.8,283.7 229.41,283.7 230.02,283.7 230.63,283.7 231.24,283.7 231.85,283.7 232.46,283.7 233.07,283.7 233.68,283.7 234.29,283.7 234.89,283.7 235.5,283.7 236.11,283.7 236.72,283.7 237.33,283.7 237.94,283.7 238.55,283.7 239.16,283.7 239.77,283.7 240.38,283.7 240.99,283.7 241.6,283.7 242.21,283.7 242.82,283.7 243.31,283.7 243.43,283.69 244.04,283.5 244.65,282.47 245.01,281.08 245.26,279.78 245.87,275.2 246.48,268.44 247.09,258.61 247.7,247.3 248.06,241.19 248.31,237.36 248.92,227.77 249.53,221.13 249.65,220.48 250.14,220.46 250.75,224.22 251.23,228.11 251.36,229.06 251.96,234.87 252.57,241.3 253.18,246.85 253.31,247.73 253.79,250.83 254.4,254.2 255.01,257.1 255.62,259.64 256.23,261.9 256.84,263.92 257.45,265.69 258.06,267.25 258.67,268.64 259.28,269.9 259.89,271.06 260.5,272.1 261.11,272.98 261.72,273.69 262.33,274.17 262.94,274.51 263.55,275.07 264.16,275.7 264.77,276.35 265.38,276.96 265.99,277.51 266.6,277.66 267.21,277.53 267.82,277.33 268.43,277.64 269.04,278.07 269.64,278.5 270.25,278.52 270.86,278.55 271.47,278.26 272.08,276.72 272.69,275.19 273.3,274.63 273.91,275.56 274.52,276.49 275.13,276.73 275.74,276.5 276.35,276.27 276.96,276.21 277.57,276.18 278.18,276.15 278.79,276.21 279.4,276.28 280.01,276.45 280.62,277.11 281.23,277.76 281.84,278.14 282.45,278.09 283.06,278.05 283.67,278.05 284.28,278.08 284.89,278.1 285.5,277.25 286.11,276.17 286.72,275.1 287.32,275.82 287.93,276.55 288.54,277.18 289.15,277.41 289.76,277.63 290.37,277.7 290.98,277.52 291.59,277.35 292.2,277.36 292.81,277.51 293.42,277.66 294.03,277.65 294.64,277.6 295.25,277.55 295.86,277.47 296.47,277.39 297.08,277.26 297.69,276.92 298.3,276.58 298.91,276.66 299.52,277.38 300.13,278.1 300.74,277.89 301.35,277.05 301.96,276.22 302.57,276.1 303.18,276.16 303.79,276.22 304.39,277.11 305,277.99 305.61,278.51 306.22,277.55 306.83,276.58 307.44,276.06 308.05,276.21 308.66,276.36 309.27,276.99 309.88,277.93 310.49,278.87 311.1,278.13 311.71,276.98 312.32,275.82 312.93,277.02 313.54,278.21 314.15,279.17 314.76,279.18 315.37,279.19 315.98,278.73 316.59,277.56 317.2,276.38 317.81,276.31 318.42,276.97 319.03,277.64 319.64,277.13 320.25,276.32 320.86,275.52 321.47,276.29 322.07,277.06 322.68,277.79 323.29,278.35 323.9,278.92 324.51,278.83 325.12,277.77 325.73,276.71 326.34,276.49 326.95,276.84 327.56,277.19 328.17,277.84 328.78,278.57 329.39,279.29 330,279.18 330.61,279.07 331.22,278.96 331.83,278.87 332.44,278.78 333.05,278.55 333.66,278.11 334.27,277.68 334.88,277.68 335.49,277.97" fill="none" stroke="#333333" stroke-width="1.5" stroke-linejoin="round" />
<polyline points="225.75,283.7 226.36,283.7 226.97,283.7 227.58,283.7 228.19,283.7 228.8,283.7 229.41,283.7 230.02,283.7 230.63,283.7 231.24,283.7 231.85,283.7 232.46,283.7 233.07,283.7 233.68,283.7 234.29,283.7 234.89,283.7 235.5,283.7 236.11,283.7 236.72,283.7 237.33,283.7 237.94,283.7 238.55,283.7 239.16,283.7 239.77,283.7 240.38,283.7 240.99,283.7 241.6,283.7 242.21,283.7 242.82,283.7 243.43,283.7 244.04,283.7 244.65,283.7 245.26,283.7 245.87,283.7 246.48,283.7 247.09,283.7 247.7,283.7 248.31,283.7 248.92,283.7 249.53,283.7 250.14,283.7 250.75,283.7 251.36,283.7 251.96,283.7 252.57,283.7 253.18,283.7 253.79,283.7 254.4,283.7 255.01,283.7 255.62,283.7 256.23,283.7 256.84,283.7 257.45,283.7 258.06,283.7 258.67,283.7 259.28,283.7 259.89,283.7 260.5,283.7 261.11,283.7 261.72,283.7 262.33,283.7 262.94,283.7 263.55,283.7 264.16,283.7 264.77,283.7 265.38,283.7 265.99,283.7 266.6,283.7 267.21,283.7 267.82,283.7 268.43,283.7 269.04,283.7 269.64,283.7 270.25,283.7 270.86,283.7 271.47,283.7 272.08,283.7 272.69,283.7 273.3,283.7 273.91,283.7 274.52,283.7 275.13,283.7 275.74,283.7 276.35,283.7 276.96,283.7 277.57,283.7 278.18,283.7 278.79,283.7 278.91,283.7 279.4,283.45 280.01,282.5 280.62,280.73 280.86,279.78 281.23,278.05 281.84,274.55 282.45,270.61 283.06,266.66 283.3,265.17 283.67,262.89 284.28,258.85 284.89,255.01 285.5,251.92 285.62,251.44 286.11,250 286.72,249.08 287.32,248.81 287.69,248.82 287.93,248.9 288.54,249.52 289.15,250.66 289.64,251.87 289.76,252.21 290.37,254.17 290.98,256.4 291.59,258.74 292.2,261.03 292.32,261.46 292.81,263.25 293.42,265.58 294.03,267.87 294.64,269.96 295.25,271.71 295.86,272.99 296.47,273.79 297.08,274.21 297.69,274.49 298.3,274.61 298.42,274.61 298.91,274.99 299.52,276.26 300.13,277.41 300.74,278.02 301.35,278.23 301.96,278.36 302.57,278.66 303.18,279 303.79,279.34 304.39,279.35 305,279.37 305.61,279.4 306.22,279.5 306.83,279.6 307.44,279.66 308.05,279.67 308.66,279.67 309.27,279.57 309.88,279.38 310.49,279.2 311.1,278.44 311.71,277.54 312.32,276.64 312.93,277.13 313.54,277.62 314.15,278.14 314.76,278.76 315.37,279.38 315.98,279.19 316.59,277.8 317.2,276.4 317.81,276.66 318.42,278.03 319.03,279.4 319.64,278.64 320.25,277.34 320.86,276.05 321.47,276.4 322.07,276.75 322.68,277.18 323.29,277.92 323.9,278.67 324.51,279.06 325.12,278.91 325.73,278.76 326.34,278.22 326.95,277.43 327.56,276.64 328.17,276.89 328.78,277.4 329.39,277.92 330,278.14 330.61,278.37 331.22,278.59 331.83,278.82 332.44,279.04 333.05,278.83 333.66,277.95 334.27,277.08 334.88,277.26 335.49,278.14" fill="none" stroke="#e32626" stroke-width="1.5" stroke-linejoin="round" />
<line x1="225.4" y1="283.6" x2="338.2" y2="283.6" stroke="#141414" stroke-width="1.2"/>
<line x1="225.75" y1="283.6" x2="225.75" y2="286.4" stroke="#141414" stroke-width="1"/>
<text x="225.75" y="296.1" font-size="6.8" text-anchor="middle" fill="#222" stroke="#222" stroke-width="0.05" font-weight="normal" >0</text>
<line x1="244.04" y1="283.6" x2="244.04" y2="286.4" stroke="#141414" stroke-width="1"/>
<text x="244.04" y="296.1" font-size="6.8" text-anchor="middle" fill="#222" stroke="#222" stroke-width="0.05" font-weight="normal" >15</text>
<line x1="262.33" y1="283.6" x2="262.33" y2="286.4" stroke="#141414" stroke-width="1"/>
<text x="262.33" y="296.1" font-size="6.8" text-anchor="middle" fill="#222" stroke="#222" stroke-width="0.05" font-weight="normal" >30</text>
<line x1="280.62" y1="283.6" x2="280.62" y2="286.4" stroke="#141414" stroke-width="1"/>
<text x="280.62" y="296.1" font-size="6.8" text-anchor="middle" fill="#222" stroke="#222" stroke-width="0.05" font-weight="normal" >45</text>
<line x1="298.91" y1="283.6" x2="298.91" y2="286.4" stroke="#141414" stroke-width="1"/>
<text x="298.91" y="296.1" font-size="6.8" text-anchor="middle" fill="#222" stroke="#222" stroke-width="0.05" font-weight="normal" >60</text>
<line x1="317.2" y1="283.6" x2="317.2" y2="286.4" stroke="#141414" stroke-width="1"/>
<text x="317.2" y="296.1" font-size="6.8" text-anchor="middle" fill="#222" stroke="#222" stroke-width="0.05" font-weight="normal" >75</text>
<line x1="335.49" y1="283.6" x2="335.49" y2="286.4" stroke="#141414" stroke-width="1"/>
<text x="335.49" y="296.1" font-size="6.8" text-anchor="middle" fill="#222" stroke="#222" stroke-width="0.05" font-weight="normal" >90</text>
<text x="282" y="308.2" font-size="9" text-anchor="middle" fill="#222" stroke="#222" stroke-width="0.3" textLength="30.5" lengthAdjust="spacingAndGlyphs">Time (min)</text>
<line x1="226.6" y1="283.1" x2="336.5" y2="283.1" stroke="#e3ae22" stroke-width="1.3"/>
<text transform="translate(202.6,239.6) rotate(-90)" font-size="8.8" text-anchor="middle" fill="#222" stroke="#222" stroke-width="0.3" textLength="39.5" lengthAdjust="spacingAndGlyphs">Thrombin (nM)</text>
<text x="271" y="188.3" font-size="8.4" text-anchor="start" fill="#111" stroke="#111" stroke-width="0.12" font-weight="normal" >No TF</text>
<text x="194.5" y="174.7" font-size="11.2" text-anchor="start" fill="#000" stroke="#000" stroke-width="0.12" font-weight="bold" >C</text>
<line x1="291" y1="62.3" x2="302.8" y2="62.3" stroke="#404040" stroke-width="1.5"/>
<text x="306.6" y="64.4" font-size="6.1" text-anchor="start" fill="#222" stroke="#222" stroke-width="0.05" font-weight="normal" >FXIa 30 pM</text>
<line x1="291" y1="70.2" x2="302.8" y2="70.2" stroke="#e2453a" stroke-width="1.5"/>
<text x="306.6" y="72.3" font-size="6.1" text-anchor="start" fill="#222" stroke="#222" stroke-width="0.05" font-weight="normal" >FXIa 10 pM</text>
<line x1="291" y1="78" x2="302.8" y2="78" stroke="#3564a8" stroke-width="1.5"/>
<text x="306.6" y="80.1" font-size="6.1" text-anchor="start" fill="#222" stroke="#222" stroke-width="0.05" font-weight="normal" >FXIa 3.3 pM</text>
<line x1="291" y1="86.1" x2="302.8" y2="86.1" stroke="#17957a" stroke-width="1.5"/>
<text x="306.6" y="88.2" font-size="6.1" text-anchor="start" fill="#222" stroke="#222" stroke-width="0.05" font-weight="normal" >FXIa 1.1 pM</text>
<line x1="291" y1="93.9" x2="302.8" y2="93.9" stroke="#a465b8" stroke-width="1.5"/>
<text x="306.6" y="96" font-size="6.1" text-anchor="start" fill="#222" stroke="#222" stroke-width="0.05" font-weight="normal" >FXIa 0.37 pM</text>
<line x1="291" y1="101.7" x2="302.8" y2="101.7" stroke="#e5a823" stroke-width="1.5"/>
<text x="306.6" y="103.8" font-size="6.1" text-anchor="start" fill="#222" stroke="#222" stroke-width="0.05" font-weight="normal" >FXIa 0 pM</text>
<line x1="297.1" y1="207.3" x2="308.4" y2="207.3" stroke="#333333" stroke-width="1.5"/>
<text x="312.3" y="209.4" font-size="6.1" text-anchor="start" fill="#222" stroke="#222" stroke-width="0.05" font-weight="normal" >FXIa 30 pM</text>
<line x1="297.1" y1="215.2" x2="308.4" y2="215.2" stroke="#e32626" stroke-width="1.5"/>
<text x="312.3" y="217.3" font-size="6.1" text-anchor="start" fill="#222" stroke="#222" stroke-width="0.05" font-weight="normal" >FXIa 10 pM</text>
<line x1="297.1" y1="223" x2="308.4" y2="223" stroke="#1f66ad" stroke-width="1.5"/>
<text x="312.3" y="225.1" font-size="6.1" text-anchor="start" fill="#222" stroke="#222" stroke-width="0.05" font-weight="normal" >FXIa 3.3 pM</text>
<line x1="297.1" y1="231.1" x2="308.4" y2="231.1" stroke="#22924f" stroke-width="1.5"/>
<text x="312.3" y="233.2" font-size="6.1" text-anchor="start" fill="#222" stroke="#222" stroke-width="0.05" font-weight="normal" >FXIa 1.1 pM</text>
<line x1="297.1" y1="239.4" x2="308.4" y2="239.4" stroke="#8f55ae" stroke-width="1.5"/>
<text x="312.3" y="241.5" font-size="6.1" text-anchor="start" fill="#222" stroke="#222" stroke-width="0.05" font-weight="normal" >FXIa 0.37 pM</text>
<line x1="297.1" y1="247.1" x2="308.4" y2="247.1" stroke="#e3ae22" stroke-width="1.5"/>
<text x="312.3" y="249.2" font-size="6.1" text-anchor="start" fill="#222" stroke="#222" stroke-width="0.05" font-weight="normal" >FXIa 0 pM</text>
<line x1="163" y1="101.9" x2="178.55" y2="90.53" stroke="#e0302f" stroke-width="1.1"/>
<polygon points="184.2,86.4 180.32,92.95 176.78,88.11" fill="#e0302f"/>
<line x1="155.3" y1="152.7" x2="177.78" y2="162.5" stroke="#333" stroke-width="1.1"/>
<polygon points="184.2,165.3 176.58,165.25 178.98,159.75" fill="#333"/>
<rect x="3.5" y="3.5" width="513" height="310" fill="none" stroke="#f3f3f3" stroke-width="1"/>
<rect x="0.75" y="0.75" width="518.5" height="316.5" fill="none" stroke="#262626" stroke-width="1.5"/>
</svg>
</body></html>
